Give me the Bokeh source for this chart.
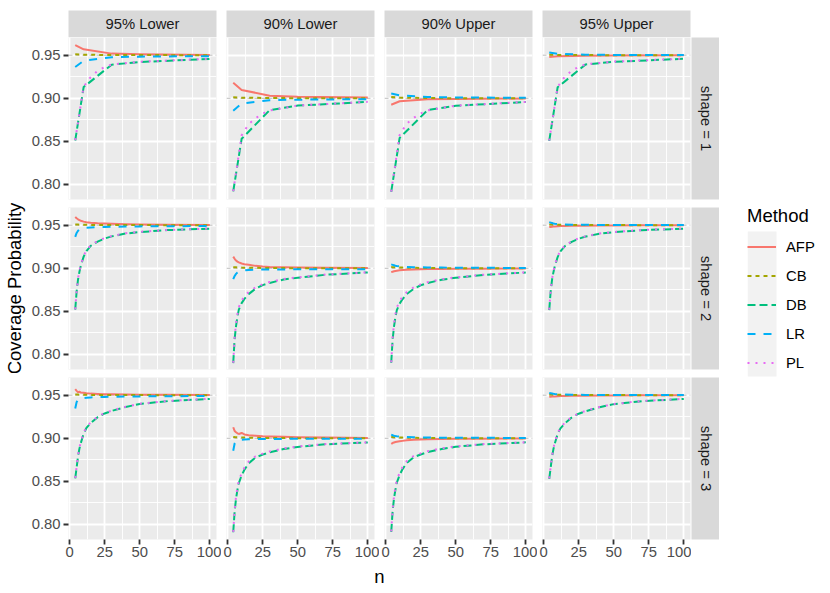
import math
import numpy as np
from bokeh.plotting import figure
from bokeh.layouts import row, column
from bokeh.models import (Range1d, FixedTicker, Span, Label, Legend, LegendItem,
                          BoxAnnotation, PrintfTickFormatter)
from bokeh.embed import file_html
from bokeh.resources import INLINE

# ------------------------------------------------------------------ data
METHODS = ["AFP", "CB", "DB", "LR", "PL"]
PANEL_TITLES = ["95% Lower", "90% Lower", "90% Upper", "95% Upper"]
NOMINAL = [0.95, 0.90, 0.90, 0.95]
SHAPE_LABELS = ["shape = 1", "shape = 2", "shape = 3"]
X_TICKS = [0, 25, 50, 75, 100]
Y_TICKS = [0.80, 0.85, 0.90, 0.95]

N_SHAPE1 = [4, 10, 30, 50, 100]
N_SHAPE1_PL = [4, 10, 15, 20, 25, 30, 50, 100]
N_SHAPE23 = [4, 5, 6, 7, 8, 10, 12, 15, 20, 25, 30, 40, 50, 70, 100]

# shape = 1
AFP_S1_L95 = [0.9616, 0.9568, 0.9518, 0.9510, 0.9503]
CB_S1_L95 = [0.9510, 0.9505, 0.9502, 0.9501, 0.9500]
DB_S1_L95 = [0.8510, 0.9130, 0.9390, 0.9420, 0.9457]
LR_S1_L95 = [0.9363, 0.9435, 0.9477, 0.9483, 0.9489]
PL_S1_L95 = [0.8515, 0.9135, 0.9245, 0.9318, 0.9362, 0.9392, 0.9424, 0.9458]

AFP_S1_L90 = [0.9180, 0.9097, 0.9030, 0.9018, 0.9008]
CB_S1_L90 = [0.9013, 0.9007, 0.9003, 0.9001, 0.9000]
DB_S1_L90 = [0.7920, 0.8530, 0.8863, 0.8915, 0.8958]
LR_S1_L90 = [0.8855, 0.8940, 0.8978, 0.8984, 0.8990]
PL_S1_L90 = [0.7922, 0.8570, 0.8700, 0.8770, 0.8822, 0.8858, 0.8916, 0.8959]

AFP_S1_U90 = [0.8925, 0.8965, 0.8988, 0.8993, 0.8997]
CB_S1_U90 = [0.9016, 0.9008, 0.9003, 0.9001, 0.9000]
DB_S1_U90 = [0.7915, 0.8540, 0.8865, 0.8913, 0.8957]
LR_S1_U90 = [0.9055, 0.9035, 0.9015, 0.9010, 0.9005]
PL_S1_U90 = [0.7918, 0.8575, 0.8705, 0.8772, 0.8825, 0.8860, 0.8915, 0.8958]

AFP_S1_U95 = [0.9478, 0.9488, 0.9494, 0.9497, 0.9499]
CB_S1_U95 = [0.9506, 0.9503, 0.9501, 0.9500, 0.9500]
DB_S1_U95 = [0.8505, 0.9128, 0.9393, 0.9423, 0.9458]
LR_S1_U95 = [0.9530, 0.9515, 0.9505, 0.9503, 0.9502]
PL_S1_U95 = [0.8510, 0.9133, 0.9248, 0.9320, 0.9364, 0.9394, 0.9425, 0.9459]

# shape = 2
AFP_S2_L95 = [0.9595, 0.9580, 0.9568, 0.9558, 0.9551, 0.9541, 0.9535, 0.9529, 0.9523, 0.9519, 0.9516, 0.9512, 0.9509, 0.9506, 0.9503]
CB_S2_L95 = [0.9509, 0.9508, 0.9507, 0.9506, 0.9505, 0.9504, 0.9504, 0.9503, 0.9502, 0.9502, 0.9501, 0.9501, 0.9501, 0.9500, 0.9500]
DB_S2_L95 = [0.8520, 0.8730, 0.8870, 0.8960, 0.9030, 0.9135, 0.9200, 0.9260, 0.9310, 0.9345, 0.9370, 0.9403, 0.9420, 0.9443, 0.9460]
LR_S2_L95 = [0.9365, 0.9410, 0.9435, 0.9450, 0.9458, 0.9465, 0.9469, 0.9473, 0.9477, 0.9479, 0.9481, 0.9484, 0.9486, 0.9488, 0.9490]
PL_S2_L95 = [0.8525, 0.8740, 0.8882, 0.8972, 0.9042, 0.9145, 0.9208, 0.9267, 0.9316, 0.9350, 0.9374, 0.9406, 0.9423, 0.9445, 0.9461]

AFP_S2_L90 = [0.9135, 0.9110, 0.9090, 0.9077, 0.9068, 0.9055, 0.9047, 0.9040, 0.9028, 0.9020, 0.9015, 0.9012, 0.9010, 0.9007, 0.9004]
CB_S2_L90 = [0.9013, 0.9012, 0.9011, 0.9010, 0.9010, 0.9008, 0.9007, 0.9006, 0.9005, 0.9004, 0.9003, 0.9002, 0.9001, 0.9001, 0.9000]
DB_S2_L90 = [0.7900, 0.8180, 0.8330, 0.8440, 0.8520, 0.8596, 0.8645, 0.8700, 0.8765, 0.8805, 0.8830, 0.8870, 0.8890, 0.8925, 0.8952]
LR_S2_L90 = [0.8875, 0.8910, 0.8935, 0.8950, 0.8960, 0.8970, 0.8975, 0.8980, 0.8983, 0.8985, 0.8986, 0.8987, 0.8988, 0.8989, 0.8990]
PL_S2_L90 = [0.7905, 0.8200, 0.8360, 0.8470, 0.8550, 0.8625, 0.8675, 0.8725, 0.8780, 0.8815, 0.8840, 0.8875, 0.8895, 0.8927, 0.8953]

AFP_S2_U90 = [0.8955, 0.8960, 0.8965, 0.8969, 0.8972, 0.8977, 0.8980, 0.8984, 0.8987, 0.8989, 0.8991, 0.8993, 0.8994, 0.8996, 0.8998]
CB_S2_U90 = [0.9014, 0.9013, 0.9012, 0.9011, 0.9010, 0.9009, 0.9008, 0.9006, 0.9005, 0.9004, 0.9003, 0.9002, 0.9001, 0.9001, 0.9000]
DB_S2_U90 = [0.7905, 0.8175, 0.8325, 0.8435, 0.8515, 0.8590, 0.8640, 0.8700, 0.8762, 0.8803, 0.8829, 0.8868, 0.8890, 0.8924, 0.8951]
LR_S2_U90 = [0.9045, 0.9040, 0.9035, 0.9030, 0.9027, 0.9022, 0.9019, 0.9016, 0.9013, 0.9011, 0.9010, 0.9008, 0.9007, 0.9005, 0.9004]
PL_S2_U90 = [0.7910, 0.8195, 0.8355, 0.8465, 0.8545, 0.8620, 0.8670, 0.8722, 0.8778, 0.8813, 0.8838, 0.8873, 0.8894, 0.8926, 0.8952]

AFP_S2_U95 = [0.9478, 0.9480, 0.9482, 0.9484, 0.9485, 0.9487, 0.9489, 0.9490, 0.9492, 0.9493, 0.9494, 0.9496, 0.9497, 0.9498, 0.9499]
CB_S2_U95 = [0.9509, 0.9508, 0.9507, 0.9506, 0.9505, 0.9504, 0.9504, 0.9503, 0.9502, 0.9502, 0.9501, 0.9501, 0.9501, 0.9500, 0.9500]
DB_S2_U95 = [0.8515, 0.8725, 0.8865, 0.8955, 0.9025, 0.9130, 0.9195, 0.9255, 0.9307, 0.9343, 0.9368, 0.9401, 0.9419, 0.9442, 0.9459]
LR_S2_U95 = [0.9535, 0.9530, 0.9525, 0.9520, 0.9517, 0.9513, 0.9510, 0.9508, 0.9506, 0.9505, 0.9504, 0.9503, 0.9502, 0.9501, 0.9501]
PL_S2_U95 = [0.8520, 0.8735, 0.8877, 0.8967, 0.9037, 0.9140, 0.9203, 0.9262, 0.9313, 0.9348, 0.9372, 0.9404, 0.9421, 0.9444, 0.9460]

# shape = 3
AFP_S3_L95 = [0.9570, 0.9550, 0.9535, 0.9540, 0.9530, 0.9527, 0.9522, 0.9518, 0.9515, 0.9512, 0.9510, 0.9508, 0.9506, 0.9504, 0.9502]
CB_S3_L95 = [0.9509, 0.9508, 0.9507, 0.9506, 0.9505, 0.9504, 0.9504, 0.9503, 0.9502, 0.9502, 0.9501, 0.9501, 0.9501, 0.9500, 0.9500]
DB_S3_L95 = [0.8535, 0.8660, 0.8790, 0.8880, 0.8945, 0.9055, 0.9120, 0.9175, 0.9245, 0.9288, 0.9317, 0.9363, 0.9398, 0.9431, 0.9457]
LR_S3_L95 = [0.9346, 0.9420, 0.9445, 0.9455, 0.9461, 0.9467, 0.9471, 0.9474, 0.9477, 0.9480, 0.9482, 0.9484, 0.9486, 0.9488, 0.9490]
PL_S3_L95 = [0.8540, 0.8670, 0.8802, 0.8892, 0.8957, 0.9065, 0.9129, 0.9183, 0.9251, 0.9293, 0.9321, 0.9366, 0.9400, 0.9433, 0.9458]

AFP_S3_L90 = [0.9128, 0.9085, 0.9070, 0.9058, 0.9050, 0.9062, 0.9045, 0.9035, 0.9030, 0.9025, 0.9022, 0.9017, 0.9013, 0.9008, 0.9003]
CB_S3_L90 = [0.9016, 0.9014, 0.9013, 0.9012, 0.9011, 0.9009, 0.9008, 0.9006, 0.9005, 0.9004, 0.9003, 0.9002, 0.9001, 0.9001, 0.9000]
DB_S3_L90 = [0.7910, 0.8150, 0.8300, 0.8400, 0.8480, 0.8570, 0.8635, 0.8710, 0.8778, 0.8810, 0.8838, 0.8875, 0.8900, 0.8930, 0.8952]
LR_S3_L90 = [0.8855, 0.8940, 0.8962, 0.8972, 0.8978, 0.8983, 0.8986, 0.8988, 0.8990, 0.8991, 0.8992, 0.8993, 0.8994, 0.8995, 0.8996]
PL_S3_L90 = [0.7915, 0.8170, 0.8325, 0.8428, 0.8508, 0.8597, 0.8660, 0.8730, 0.8792, 0.8822, 0.8848, 0.8882, 0.8905, 0.8933, 0.8953]

AFP_S3_U90 = [0.8935, 0.8945, 0.8952, 0.8957, 0.8960, 0.8965, 0.8970, 0.8976, 0.8982, 0.8986, 0.8989, 0.8992, 0.8994, 0.8996, 0.8998]
CB_S3_U90 = [0.9015, 0.9014, 0.9013, 0.9012, 0.9011, 0.9009, 0.9008, 0.9006, 0.9005, 0.9004, 0.9003, 0.9002, 0.9001, 0.9001, 0.9000]
DB_S3_U90 = [0.7915, 0.8155, 0.8305, 0.8405, 0.8485, 0.8575, 0.8640, 0.8712, 0.8780, 0.8812, 0.8840, 0.8876, 0.8901, 0.8930, 0.8953]
LR_S3_U90 = [0.9042, 0.9035, 0.9030, 0.9026, 0.9023, 0.9020, 0.9017, 0.9014, 0.9012, 0.9010, 0.9009, 0.9007, 0.9006, 0.9005, 0.9004]
PL_S3_U90 = [0.7920, 0.8175, 0.8330, 0.8433, 0.8513, 0.8602, 0.8665, 0.8734, 0.8795, 0.8825, 0.8850, 0.8884, 0.8906, 0.8933, 0.8954]

AFP_S3_U95 = [0.9482, 0.9483, 0.9484, 0.9485, 0.9486, 0.9488, 0.9489, 0.9490, 0.9492, 0.9493, 0.9494, 0.9496, 0.9497, 0.9498, 0.9499]
CB_S3_U95 = [0.9509, 0.9508, 0.9507, 0.9506, 0.9505, 0.9504, 0.9504, 0.9503, 0.9502, 0.9502, 0.9501, 0.9501, 0.9501, 0.9500, 0.9500]
DB_S3_U95 = [0.8530, 0.8655, 0.8785, 0.8875, 0.8940, 0.9050, 0.9115, 0.9170, 0.9240, 0.9285, 0.9314, 0.9361, 0.9396, 0.9430, 0.9456]
LR_S3_U95 = [0.9525, 0.9522, 0.9519, 0.9516, 0.9514, 0.9511, 0.9509, 0.9507, 0.9505, 0.9504, 0.9503, 0.9502, 0.9502, 0.9501, 0.9501]
PL_S3_U95 = [0.8535, 0.8665, 0.8797, 0.8887, 0.8952, 0.9060, 0.9124, 0.9178, 0.9246, 0.9290, 0.9318, 0.9364, 0.9398, 0.9432, 0.9457]

# ------------------------------------------------------------------ table built from the lists
g = globals()
COL_KEYS = ["L95", "L90", "U90", "U95"]


def n_for(shape, method):
    if shape == 1:
        return N_SHAPE1_PL if method == "PL" else N_SHAPE1
    return N_SHAPE23


SERIES = {}
for s in (1, 2, 3):
    for ci, ck in enumerate(COL_KEYS):
        for m in METHODS:
            SERIES[(s - 1, ci, m)] = (n_for(s, m), g[f"{m}_S{s}_{ck}"])

# ------------------------------------------------------------------ styling / layout
FONT = "Liberation Sans"
COLORS = {"AFP": "#F8766D", "CB": "#A3A500", "DB": "#00BF7D", "LR": "#00B0F6", "PL": "#E76BF3"}
DASHES = {"AFP": "solid", "CB": "4 4", "DB": "8 4", "LR": "8 8", "PL": "2 6"}
LW = 2.0

FRAME_W, FRAME_H = 148, 162
COL_LEFT = [68, 5, 5, 5]
COL_RIGHT = [5, 5, 5, 1]
ROW_TOP = [0, 4, 4]
ROW_BOTTOM = [4, 4, 24]
STRIP_TOP, STRIP_H = 10, 27
STRIP_R_W = 28
N_ROW_H = 28
LEGEND_W = 103

col_w = [COL_LEFT[i] + FRAME_W + COL_RIGHT[i] for i in range(4)]
row_h = [ROW_TOP[i] + FRAME_H + ROW_BOTTOM[i] for i in range(3)]
TOTAL_H = STRIP_TOP + STRIP_H + sum(row_h) + N_ROW_H

X_RANGE = (-0.8, 104.8)
Y_RANGE = (0.7826, 0.9705)

x_ticker = FixedTicker(ticks=X_TICKS, minor_ticks=[12.5, 37.5, 62.5, 87.5])
y_ticker = FixedTicker(ticks=Y_TICKS, minor_ticks=[0.825, 0.875, 0.925])


def blank_fig(width, height, xr, yr, left=0, right=0, top=0, bottom=0, bg="white"):
    f = figure(width=width, height=height, x_range=Range1d(*xr), y_range=Range1d(*yr),
               output_backend="svg", toolbar_location=None,
               x_axis_location=None, y_axis_location=None,
               min_border_left=left, min_border_right=right,
               min_border_top=top, min_border_bottom=bottom,
               background_fill_color=bg, border_fill_color="white",
               outline_line_color=None)
    f.xgrid.visible = False
    f.ygrid.visible = False
    return f


def make_panel(r, c):
    p = figure(width=col_w[c], height=row_h[r],
               x_range=Range1d(*X_RANGE), y_range=Range1d(*Y_RANGE),
               output_backend="svg", toolbar_location=None,
               x_axis_location="below" if r == 2 else None,
               y_axis_location="left" if c == 0 else None,
               min_border_left=COL_LEFT[c], min_border_right=COL_RIGHT[c],
               min_border_top=ROW_TOP[r], min_border_bottom=ROW_BOTTOM[r],
               background_fill_color="#EBEBEB", border_fill_color="white",
               outline_line_color=None)
    p.xgrid.ticker = x_ticker
    p.ygrid.ticker = y_ticker
    for gr in (p.xgrid, p.ygrid):
        gr.grid_line_color = "white"
        gr.grid_line_width = 1.8
        gr.minor_grid_line_color = "white"
        gr.minor_grid_line_width = 0.9
    axes = []
    if r == 2:
        p.xaxis.ticker = X_TICKS
        p.xaxis.formatter = PrintfTickFormatter(format="%d")
        p.xaxis.major_label_standoff = 2
        axes.append(p.xaxis)
    if c == 0:
        p.yaxis.ticker = Y_TICKS
        p.yaxis.formatter = PrintfTickFormatter(format="%.2f")
        p.yaxis.major_label_standoff = 3
        if r == 1:
            p.yaxis.axis_label = "Coverage Probability"
            p.yaxis.axis_label_text_font = FONT
            p.yaxis.axis_label_text_font_size = "18.5px"
            p.yaxis.axis_label_text_font_style = "normal"
            p.yaxis.axis_label_text_color = "black"
            p.yaxis.axis_label_standoff = 4
        axes.append(p.yaxis)
    for ax in axes:
        ax.axis_line_color = None
        ax.major_tick_line_color = "#333333"
        ax.major_tick_line_width = 1.8
        ax.major_tick_out = 5
        ax.major_tick_in = 0
        ax.minor_tick_line_color = None
        ax.major_label_text_color = "#4D4D4D"
        ax.major_label_text_font = FONT
        ax.major_label_text_font_size = "14.8px"

    p.add_layout(Span(location=NOMINAL[c], dimension="width", line_color="#BDBDBD",
                      line_width=1.0, line_dash="4 3", level="underlay"))
    for m in METHODS:
        xs, ys = SERIES[(r, c, m)]
        p.line(x=xs, y=ys, line_color=COLORS[m], line_width=LW,
               line_dash=DASHES[m], line_join="round")
    return p


# top strips
strips = []
for c in range(4):
    s = blank_fig(col_w[c], STRIP_TOP + STRIP_H, (0, 1), (0, 1),
                  left=COL_LEFT[c], right=COL_RIGHT[c], top=STRIP_TOP, bottom=0, bg="#D9D9D9")
    s.add_layout(Label(x=0.5, y=0.5, text=PANEL_TITLES[c], text_align="center",
                       text_baseline="middle", text_font=FONT, text_font_size="14.8px",
                       text_color="#1A1A1A"))
    strips.append(s)
rows = [row(*strips)]

# panel rows with right strips
for r in range(3):
    figs = [make_panel(r, c) for c in range(4)]
    rs = blank_fig(STRIP_R_W, row_h[r], (0, 1), (0, 1),
                   top=ROW_TOP[r], bottom=ROW_BOTTOM[r], bg="#D9D9D9")
    rs.add_layout(Label(x=0.5, y=0.5, text=SHAPE_LABELS[r], angle=-math.pi / 2,
                        text_align="center", text_baseline="middle", text_font=FONT,
                        text_font_size="14.8px", text_color="#1A1A1A"))
    rows.append(row(*figs, rs))

# x axis title
nw = sum(col_w)
n_fig = blank_fig(nw, N_ROW_H, (0, nw), (N_ROW_H, 0))
panels_center = COL_LEFT[0] + (nw - COL_LEFT[0] - COL_RIGHT[3]) / 2
n_fig.add_layout(Label(x=panels_center, y=12.5, text="n", text_align="center",
                       text_baseline="alphabetic", text_font=FONT,
                       text_font_size="18.5px", text_color="black"))
rows.append(n_fig)

left_block = column(*rows)

# legend
LEG_LEFT, LEG_TOP = 28, 205
lf = blank_fig(LEGEND_W, TOTAL_H, (0, LEGEND_W - LEG_LEFT), (TOTAL_H - LEG_TOP, 0),
               left=LEG_LEFT, top=LEG_TOP)
KEY_TOP = 26
lf.add_layout(BoxAnnotation(left=0, right=29, top=KEY_TOP, bottom=KEY_TOP + 29 * len(METHODS),
                            fill_color="#F2F2F2", fill_alpha=1.0, line_color=None,
                            level="underlay"))
items = []
for m in METHODS:
    rr = lf.line(x=np.array([np.nan]), y=np.array([np.nan]), line_color=COLORS[m],
                 line_width=LW, line_dash=DASHES[m])
    items.append(LegendItem(label=m, renderers=[rr]))
legend = Legend(items=items, location="top_left", margin=0, padding=0, spacing=0,
                glyph_width=29, glyph_height=29, label_height=29, label_standoff=10,
                label_text_font=FONT, label_text_font_size="14.8px", label_text_color="black",
                title="Method", title_text_font=FONT, title_text_font_size="18.5px",
                title_text_font_style="normal", title_text_color="black", title_standoff=5,
                border_line_color=None, background_fill_alpha=0.0)
lf.add_layout(legend)

layout = row(left_block, lf)

open("out.html", "w").write(file_html(layout, INLINE))
